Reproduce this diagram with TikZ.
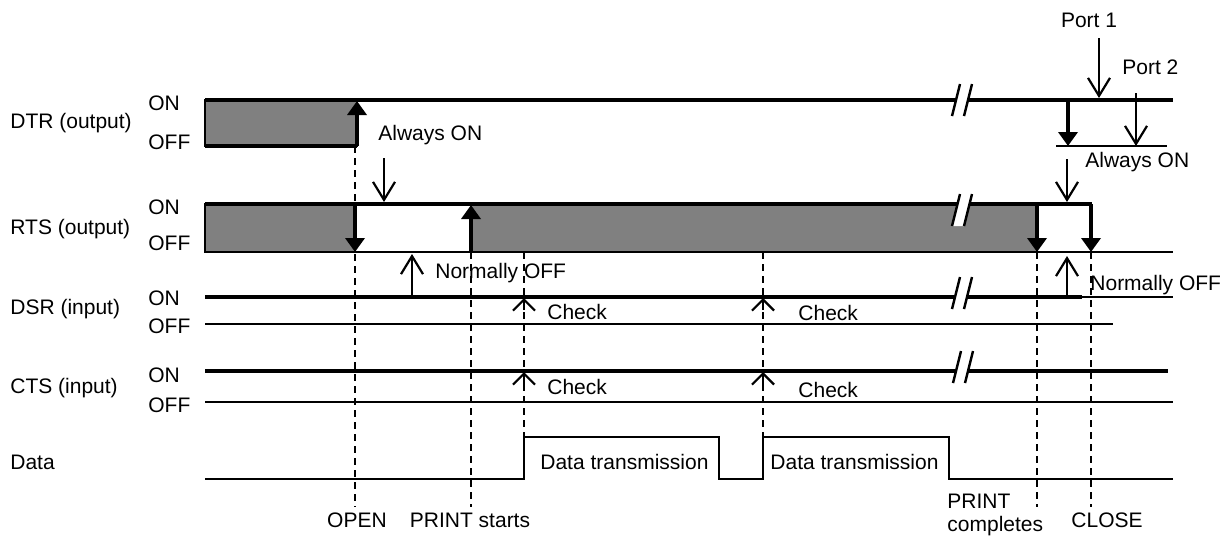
\documentclass[tikz,border=0pt]{standalone}
\usepackage{fontspec}
\setmainfont{Liberation Sans}
\usetikzlibrary{arrows.meta}
\tikzset{%
  % text
  lbl/.style={font=\fontsize{10.5}{11.5}\selectfont, inner sep=0pt},
  % signal lines
  hi/.style={line width=2.4pt},
  lo/.style={line width=1.2pt},
  busy/.style={fill=black!50, draw=black, line width=0.8pt},
  evt/.style={line width=1.3pt, dash pattern=on 3.5pt off 2.5pt},
  % arrows
  edge/.style={-{Triangle[length=7pt,width=9.5pt]}, line width=2.4pt},
  note/.style={-{Straight Barb[length=9pt,width=11pt]}, line width=1.1pt},
  chk/.style={-{Straight Barb[length=5.5pt,width=11pt]}, line width=1.1pt},
}
% break mark on a line: #1 = x, #2 = y
\newcommand{\brk}[2]{%
  \fill[white] ({#1-10},{#2+16}) -- ({#1-2},{#2-16}) -- ({#1+10},{#2-16}) -- ({#1+2},{#2+16}) -- cycle;
  \draw[lo] ({#1-10},{#2+16}) -- ({#1-2},{#2-16});
  \draw[lo] ({#1+2},{#2+16}) -- ({#1+10},{#2-16});
}

\begin{document}
\begin{tikzpicture}[x=0.5pt, y=-0.5pt]
  \useasboundingbox (0,0) rectangle (1225,537);

  % Signal names
  \node[lbl, anchor=west] (ndtr) at (10,123) {DTR (output)};
  \node[lbl, anchor=west] (nrts) at (10,229) {RTS (output)};
  \node[lbl, anchor=west] (ndsr) at (10,309) {DSR (input)};
  \node[lbl, anchor=west] (ncts) at (10,388) {CTS (input)};
  \node[lbl, anchor=west] (ndata) at (10,462) {Data};

  % Levels
  \foreach \n/\on/\off in {dtr/103/142, rts/207/243, dsr/298/326, cts/375/405} {
    \node[lbl, anchor=west] (\n on) at (148,\on) {ON};
    \node[lbl, anchor=west] (\n off) at (148,\off) {OFF};
  }

  % DTR
  \draw[busy] (205,100) rectangle (357,146);
  \draw[hi] (205,146) -- (357,146);
  \draw[hi] (205,100) -- (1173,100);
  \draw[edge] (357,146) -- (357,101);

  % RTS
  \draw[busy] (205,204) rectangle (355,252);
  \draw[busy] (471,204) rectangle (1037,252);
  \draw[lo] (205,252) -- (1173,252);
  \draw[hi] (205,204) -- (1092,204);
  \draw[edge] (355,204) -- (355,252);
  \draw[edge] (471,252) -- (471,205);
  \draw[edge] (1037,204) -- (1037,252);
  \draw[edge] (1091,204) -- (1091,252);

  % DSR
  \draw[hi] (205,297) -- (1082,297);
  \draw[lo] (1082,297) -- (1173,297);
  \draw[lo] (205,324) -- (1113,324);

  % CTS
  \draw[hi] (205,371) -- (1168,371);
  \draw[lo] (205,402) -- (1173,402);

  % Data
  \draw[lo] (205,479) -- (524,479) -- (524,437) -- (719,437) -- (719,479)
    -- (763,479) -- (763,437) -- (949,437) -- (949,479) -- (1173,479);
  \node[lbl, anchor=west] (tx1) at (540,462) {Data transmission};
  \node[lbl, anchor=west] (tx2) at (770,462) {Data transmission};

  % Breaks
  \brk{962}{100}
  \brk{962}{210}
  \brk{962}{293}
  \brk{963}{367}

  % Events
  \draw[evt] (355,146) -- (355,507);
  \draw[evt] (471,252) -- (471,507);
  \draw[evt] (524,252) -- (524,437);
  \draw[evt] (763,252) -- (763,437);
  \draw[evt] (1037,252) -- (1037,507);
  \draw[evt] (1091,252) -- (1091,507);

  \node[lbl] (open) at (357,520) {OPEN};
  \node[lbl] (prst) at (470,520) {PRINT starts};
  \node[lbl, anchor=west, align=left] (prend) at (947,515) {PRINT\\completes};
  \node[lbl] (close) at (1107,520) {CLOSE};

  % Checks
  \foreach \x/\y in {524/298, 524/372, 763/298, 763/372}
    \draw[chk] (\x,\y+12) -- (\x,\y);
  \node[lbl, anchor=west] (chk1) at (547,312) {Check};
  \node[lbl, anchor=west] (chk2) at (798,313) {Check};
  \node[lbl, anchor=west] (chk3) at (547,387) {Check};
  \node[lbl, anchor=west] (chk4) at (798,390) {Check};

  % Always ON / Normally OFF
  \node[lbl, anchor=west] (aon1) at (378,135) {Always ON};
  \draw[note] (384,158) -- (384,202);
  \node[lbl, anchor=west] (noff1) at (435,273) {Normally OFF};
  \draw[note] (412,295) -- (412,254);

  % Ports
  \node[lbl] (port1) at (1089,20) {Port 1};
  \coordinate (p1) at (1099,38);
  \draw[note] (p1) -- (1099,98);
  \node[lbl, anchor=west] (port2) at (1122,67) {Port 2};
  \coordinate (p2) at (1136,93);
  \draw[note] (p2) -- (1136,146);
  \draw[edge] (1068,100) -- (1068,146);
  \draw[lo] (1056,146) -- (1167,146);
  \node[lbl, anchor=west] (aon2) at (1085,162) {Always ON};
  \draw[note] (1067,159) -- (1067,202);
  \node[lbl, anchor=west] (noff2) at (1090,285) {Normally OFF};
  \draw[note] (1067,297) -- (1067,256);
\end{tikzpicture}
\end{document}
